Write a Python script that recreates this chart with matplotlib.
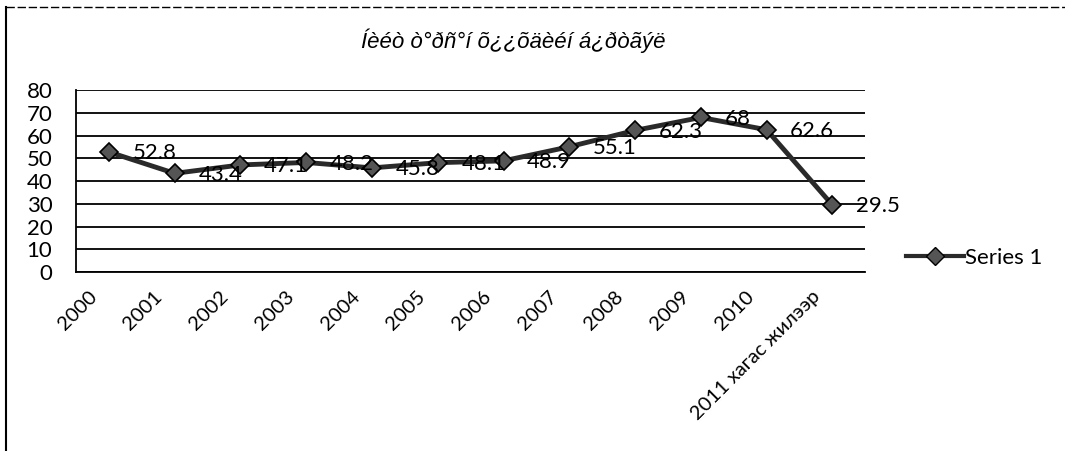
import matplotlib
matplotlib.use("Agg")
from matplotlib import pyplot as plt
from matplotlib.lines import Line2D
from matplotlib.transforms import ScaledTranslation

# chart data
categories = ["2000", "2001", "2002", "2003", "2004", "2005", "2006",
              "2007", "2008", "2009", "2010", "2011 хагас жилээр"]
values = [52.8, 43.4, 47.1, 48.2, 45.8, 48.1, 48.9, 55.1, 62.3, 68, 62.6, 29.5]
labels = ["52.8", "43.4", "47.1", "48.2", "45.8", "48.1", "48.9",
          "55.1", "62.3", "68", "62.6", "29.5"]
yticks = [0, 10, 20, 30, 40, 50, 60, 70, 80]
title = "Íèéò ò°ðñ°í õ¿¿õäèéí á¿ðòãýë"
series_name = "Series 1"

font = ["Lato", "DejaVu Sans"]

fig = plt.figure(figsize=(10.65, 4.51), dpi=100)
ax = fig.add_axes([0.0714, 0.397, 0.741, 0.403])

x = list(range(len(categories)))
ax.plot(x, values, color="#2a2a2a", lw=3.5, marker="D", ms=9,
        markerfacecolor="#555555", markeredgecolor="black", markeredgewidth=1.2,
        zorder=3)

for xi, v, lab in zip(x, values, labels):
    ax.annotate(lab, (xi, v), xytext=(17, -1), textcoords="offset points",
                ha="left", va="center", fontsize=16, family=font, zorder=4)

ax.set_xlim(-0.5, len(categories) - 0.5)
ax.set_ylim(0, 80)
ax.set_yticks(yticks)
ax.set_yticklabels([str(t) for t in yticks], fontsize=16, family=font)
ax.set_xticks(x)
ax.set_xticklabels(categories, rotation=45, ha="right", va="center",
                   rotation_mode="anchor", fontsize=14.5, family=font)
ax.tick_params(axis="x", length=0, pad=10)
ax.tick_params(axis="y", length=0, pad=17)

# nudge the rotated labels down-left like the original
shift = ScaledTranslation(-15 / 100, -8 / 100, fig.dpi_scale_trans)
for t in ax.get_xticklabels():
    t.set_transform(t.get_transform() + shift)

ax.grid(axis="y", color="black", lw=1.3)
ax.set_axisbelow(True)
for side in ["top", "right"]:
    ax.spines[side].set_visible(False)
ax.spines["left"].set_linewidth(1.3)
ax.spines["bottom"].set_linewidth(1.3)

fig.text(0.482, 0.91, title, ha="center", va="center", fontsize=16,
         style="italic", family=["Liberation Sans", "DejaVu Sans"])

handle = Line2D([], [], color="#2a2a2a", lw=3, marker="D", ms=9,
                markerfacecolor="#555555", markeredgecolor="black")
fig.legend([handle], [series_name], loc="center left",
           bbox_to_anchor=(0.832, 0.428), frameon=False, handlelength=2.6,
           handletextpad=0.05, prop={"family": font, "size": 16})

# outer frame (left edge and top edge of the scanned chart box)
fig.add_artist(Line2D([0.006, 0.006], [0.0, 0.985], color="black", lw=1.5,
                      transform=fig.transFigure))
fig.add_artist(Line2D([0.006, 1.0], [0.985, 0.985], color="black", lw=1.0,
                      ls=(0, (6, 2)), transform=fig.transFigure))

fig.savefig("out.png", dpi=100)
